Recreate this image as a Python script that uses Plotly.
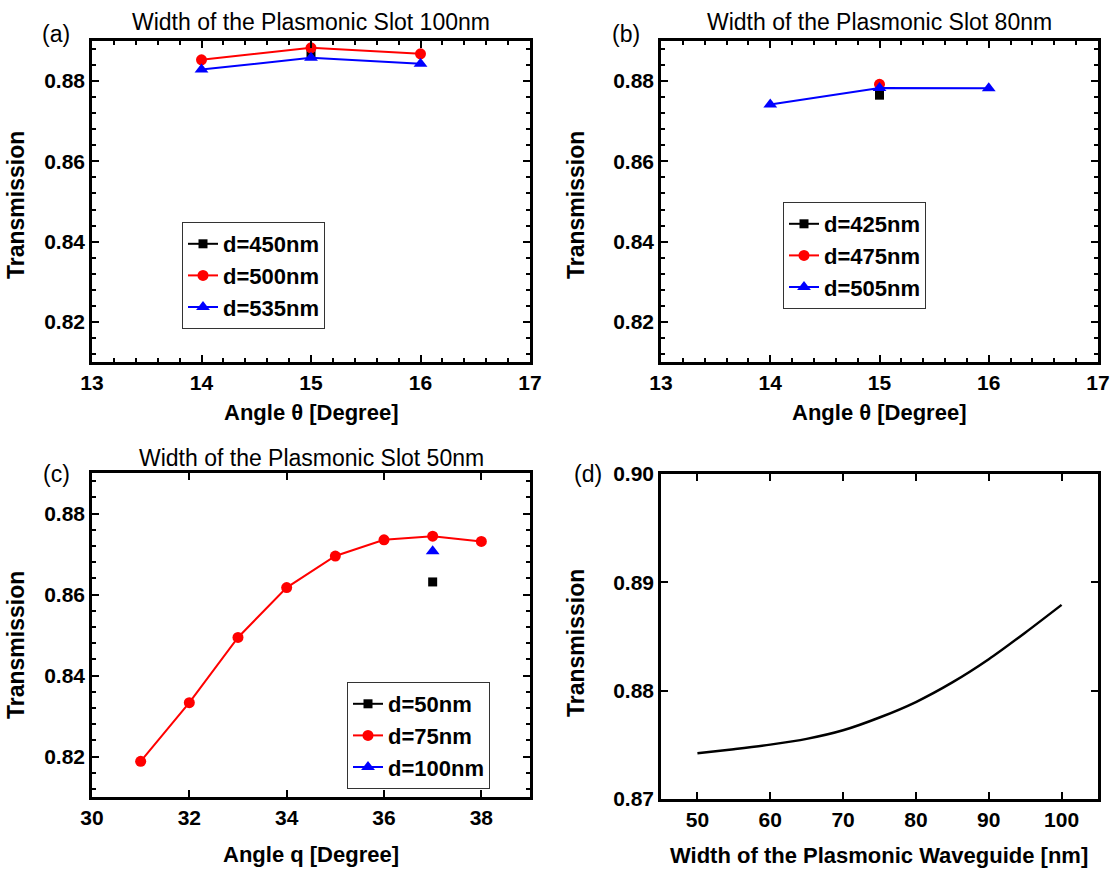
import plotly.graph_objects as go

# ---- data -------------------------------------------------------------
# (a) slot width 100 nm
a_angle_450 = [15]
a_T_450 = [0.8870]
a_angle_500 = [14, 15, 16]
a_T_500 = [0.8853, 0.8883, 0.8868]
a_angle_535 = [14, 15, 16]
a_T_535 = [0.8829, 0.8858, 0.8843]

# (b) slot width 80 nm
b_angle_425 = [15]
b_T_425 = [0.8765]
b_angle_475 = [15]
b_T_475 = [0.8792]
b_angle_505 = [14, 15, 16]
b_T_505 = [0.8742, 0.8783, 0.8782]

# (c) slot width 50 nm
c_angle_50 = [37]
c_T_50 = [0.8631]
c_angle_75 = [31, 32, 33, 34, 35, 36, 37, 38]
c_T_75 = [0.8188, 0.8333, 0.8494, 0.8617, 0.8695, 0.8735, 0.8744, 0.8731]
c_angle_100 = [37]
c_T_100 = [0.8707]

# (d) transmission versus waveguide width
d_width = [50, 55, 60, 65, 70, 75, 80, 85, 90, 95, 100]
d_T = [0.87422, 0.87460, 0.87502, 0.87555, 0.87634, 0.87752, 0.87895,
       0.88076, 0.88290, 0.88535, 0.88792]

W, H = 1112, 869
FONT = "Liberation Sans, Arial, sans-serif"


def px_x(v):
    return v / W


def px_y(v):
    return 1 - v / H


fig = go.Figure()


def series(x, y, name, color, symbol, size, xa, ya, legend):
    fig.add_trace(go.Scatter(
        x=x, y=y, name=name, mode="lines+markers",
        line=dict(color=color, width=2),
        marker=dict(color=color, symbol=symbol, size=size),
        xaxis=xa, yaxis=ya, legend=legend))


series(a_angle_450, a_T_450, "d=450nm", "black", "square", 9, "x", "y", "legend")
series(a_angle_500, a_T_500, "d=500nm", "#ff0000", "circle", 11, "x", "y", "legend")
series(a_angle_535, a_T_535, "d=535nm", "#0000ff", "triangle-up", 12, "x", "y", "legend")

series(b_angle_425, b_T_425, "d=425nm", "black", "square", 9, "x2", "y2", "legend2")
series(b_angle_475, b_T_475, "d=475nm", "#ff0000", "circle", 11, "x2", "y2", "legend2")
series(b_angle_505, b_T_505, "d=505nm", "#0000ff", "triangle-up", 12, "x2", "y2", "legend2")

series(c_angle_50, c_T_50, "d=50nm", "black", "square", 9, "x3", "y3", "legend3")
series(c_angle_75, c_T_75, "d=75nm", "#ff0000", "circle", 11, "x3", "y3", "legend3")
series(c_angle_100, c_T_100, "d=100nm", "#0000ff", "triangle-up", 12, "x3", "y3", "legend3")

fig.add_trace(go.Scatter(
    x=d_width, y=d_T, mode="lines", showlegend=False,
    line=dict(color="black", width=2.5, shape="spline", smoothing=0.8),
    xaxis="x4", yaxis="y4"))

tickfont = dict(family=FONT, size=21, color="black", weight="bold")


def axis(domain, rng, dtick, minor, anchor, fmt=None):
    d = dict(
        domain=domain, anchor=anchor, range=rng, dtick=dtick,
        showline=True, linecolor="black", linewidth=2.5, mirror="allticks",
        ticks="inside", ticklen=7, tickwidth=2, tickcolor="black",
        showgrid=False, zeroline=False, tickfont=tickfont,
        automargin=False,
    )
    if minor:
        d["minor"] = dict(dtick=minor, ticks="inside", ticklen=4,
                          tickwidth=2, tickcolor="black")
    if fmt:
        d["tickformat"] = fmt
    return d


ax_a = [px_x(92), px_x(530)]
ax_b = [px_x(661), px_x(1098)]
ay_top = [px_y(362), px_y(41)]
ay_c = [px_y(797), px_y(473)]
ay_d = [px_y(799), px_y(474)]

legend_style = dict(
    font=dict(family=FONT, size=22, color="black", weight="bold"),
    bordercolor="#333333", borderwidth=1, bgcolor="white",
    xanchor="left", yanchor="top",
)

fig.update_layout(
    template="none",
    width=W, height=H, margin=dict(l=0, r=0, t=0, b=0),
    xaxis=axis(ax_a, [13, 17], 1, 0.2, "y"),
    yaxis=axis(ay_top, [0.81, 0.89], 0.02, 0.004, "x", ".2f"),
    xaxis2=axis(ax_b, [13, 17], 1, 0.2, "y2"),
    yaxis2=axis(ay_top, [0.81, 0.89], 0.02, 0.004, "x2", ".2f"),
    xaxis3=axis(ax_a, [30, 39], 2, None, "y3"),
    yaxis3=axis(ay_c, [0.81, 0.89], 0.02, 0.004, "x3", ".2f"),
    xaxis4=axis(ax_b, [45, 105], 10, None, "y4"),
    yaxis4=axis(ay_d, [0.87, 0.90], 0.01, None, "x4", ".2f"),
    legend=dict(x=px_x(182), y=px_y(222), **legend_style),
    legend2=dict(x=px_x(783), y=px_y(202), **legend_style),
    legend3=dict(x=px_x(347), y=px_y(682), **legend_style),
)

bold = dict(family=FONT, size=22, color="black")
bold_y = dict(family=FONT, size=23, color="black")
plain = dict(family=FONT, size=23, color="black")


def text(x, y, s, font, angle=0):
    fig.add_annotation(x=px_x(x), y=px_y(y), xref="paper", yref="paper",
                       text=s, showarrow=False, font=font, textangle=angle,
                       xanchor="center", yanchor="middle")


# panel titles and letters
text(311, 22, "Width of the Plasmonic Slot 100nm", plain)
text(879, 22, "Width of the Plasmonic Slot 80nm", plain)
text(311, 458, "Width of the Plasmonic Slot 50nm", plain)
text(56, 34, "(a)", plain)
text(626, 34, "(b)", plain)
text(56, 474, "(c)", plain)
text(588, 474, "(d)", plain)

# axis titles
text(16, 205, "<b>Transmission</b>", bold_y, -90)
text(576, 205, "<b>Transmission</b>", bold_y, -90)
text(16, 645, "<b>Transmission</b>", bold_y, -90)
text(576, 643, "<b>Transmission</b>", bold_y, -90)
text(311, 413, "<b>Angle θ [Degree]</b>", bold)
text(879, 413, "<b>Angle θ [Degree]</b>", bold)
text(311, 854, "<b>Angle q [Degree]</b>", bold)
text(879, 855, "<b>Width of the Plasmonic Waveguide [nm]</b>", bold)

fig.write_html("out.html")
